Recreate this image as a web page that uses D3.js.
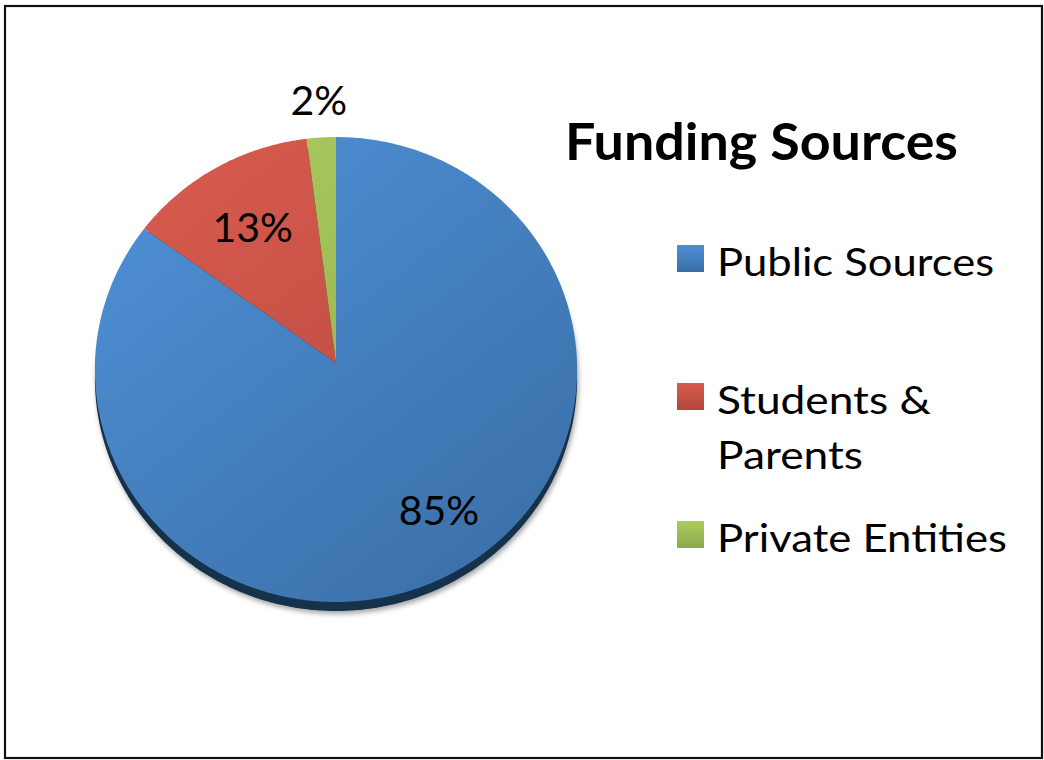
<!DOCTYPE html>
<html>
<head>
<meta charset="utf-8">
<script src="https://cdn.jsdelivr.net/npm/d3@7"></script>
<style>
  html, body { margin: 0; padding: 0; background: #fff; }
  svg { display: block; }
  text { font-family: Lato, "Open Sans", sans-serif; fill: #000; }
</style>
</head>
<body>
<script>
// ---- data ----
const categories = ["Public Sources", "Students & Parents", "Private Entities"];
const legendLines = [["Public Sources"], ["Students &", "Parents"], ["Private Entities"]];
const values = [85, 13, 2];
const valueLabels = ["85%", "13%", "2%"];
const title = "Funding Sources";

// ---- styles / layout ----
const W = 1044, H = 760;
const colorTop = ["#4e90d6", "#d85b4e", "#abcb5e"];
const colorBot = ["#3a6ea6", "#b3463e", "#8ca94a"];
const labelRadius = [0.75, 0.69, 1.17];
const labelAngleShift = [-7, 0, 0]; // degrees

const svg = d3.select("body").append("svg").attr("width", W).attr("height", H);
const defs = svg.append("defs");

// border
svg.append("rect").attr("x", 5).attr("y", 6).attr("width", 1037).attr("height", 752)
  .attr("fill", "#fff").attr("stroke", "#111").attr("stroke-width", 2.2);

// perspective projection of unit disc
const cx = 336, cy = 363, s = 241, t = 232.3, k = 0.028;
function project(angleRad, r) {
  const u = r * Math.sin(angleRad), v = -r * Math.cos(angleRad);
  const w = 1 - k * v;
  return [cx + s * u / w, cy + t * v / w];
}

const pie = d3.pie().sort(null).value(d => d)(values);
const line = d3.line().curve(d3.curveLinearClosed);

function slicePoints(a0, a1) {
  const n = Math.max(4, Math.ceil((a1 - a0) / 0.01));
  const pts = [project(0, 0)];
  d3.range(n + 1).forEach(i => pts.push(project(a0 + (a1 - a0) * i / n, 1)));
  return pts;
}

// gradients
values.forEach((v, i) => {
  const g = defs.append("linearGradient").attr("id", "g" + i)
    .attr("gradientUnits", "userSpaceOnUse")
    .attr("x1", 150).attr("y1", 140).attr("x2", 520).attr("y2", 610);
  g.append("stop").attr("offset", "0").attr("stop-color", colorTop[i]);
  g.append("stop").attr("offset", "1").attr("stop-color", colorBot[i]);
  const lg = defs.append("linearGradient").attr("id", "lg" + i)
    .attr("x1", 0).attr("y1", 0).attr("x2", 0).attr("y2", 1);
  lg.append("stop").attr("offset", "0").attr("stop-color", colorTop[i]);
  lg.append("stop").attr("offset", "1").attr("stop-color", colorBot[i]);
});
const f = defs.append("filter").attr("id", "shadow")
  .attr("x", "-10%").attr("y", "-10%").attr("width", "130%").attr("height", "130%");
f.append("feDropShadow").attr("dx", 1.5).attr("dy", 3).attr("stdDeviation", 2.5)
  .attr("flood-color", "#000").attr("flood-opacity", 0.35);

// side wall (dark edge)
svg.append("path")
  .attr("d", line(slicePoints(0, 2 * Math.PI)))
  .attr("transform", "translate(0,9)")
  .attr("fill", "#15314c")
  .attr("filter", "url(#shadow)");

// faces
svg.selectAll("path.slice").data(pie).enter().append("path")
  .attr("class", "slice")
  .attr("d", d => line(slicePoints(d.startAngle, d.endAngle)))
  .attr("fill", (d, i) => `url(#g${i})`);

// value labels
svg.selectAll("text.val").data(pie).enter().append("text")
  .attr("class", "val")
  .attr("text-anchor", "middle")
  .attr("font-size", 41)
  .attr("dy", "0.36em")
  .each(function (d, i) {
    const a = (d.startAngle + d.endAngle) / 2 + labelAngleShift[i] * Math.PI / 180;
    const p = project(a, labelRadius[i]);
    d3.select(this).attr("x", p[0]).attr("y", p[1]);
  })
  .text((d, i) => valueLabels[i]);

// title
svg.append("text").attr("x", 565).attr("y", 160)
  .attr("font-size", 51).attr("font-weight", "bold")
  .attr("textLength", 393).attr("lengthAdjust", "spacingAndGlyphs")
  .text(title);

// legend
const legendY = [245, 383, 521];
const legendLineWidths = [[277], [214, 146], [290]];
const lg = svg.selectAll("g.leg").data(categories).enter().append("g")
  .attr("class", "leg")
  .attr("transform", (d, i) => `translate(677,${legendY[i]})`);
lg.append("rect").attr("width", 27).attr("height", 27)
  .attr("fill", (d, i) => `url(#lg${i})`);
lg.each(function (d, i) {
  legendLines[i].forEach((ln, j) => {
    d3.select(this).append("text")
      .attr("x", 40).attr("y", 31 + j * 55)
      .attr("font-size", 39)
      .attr("textLength", legendLineWidths[i][j]).attr("lengthAdjust", "spacingAndGlyphs")
      .text(ln);
  });
});
</script>
</body>
</html>
